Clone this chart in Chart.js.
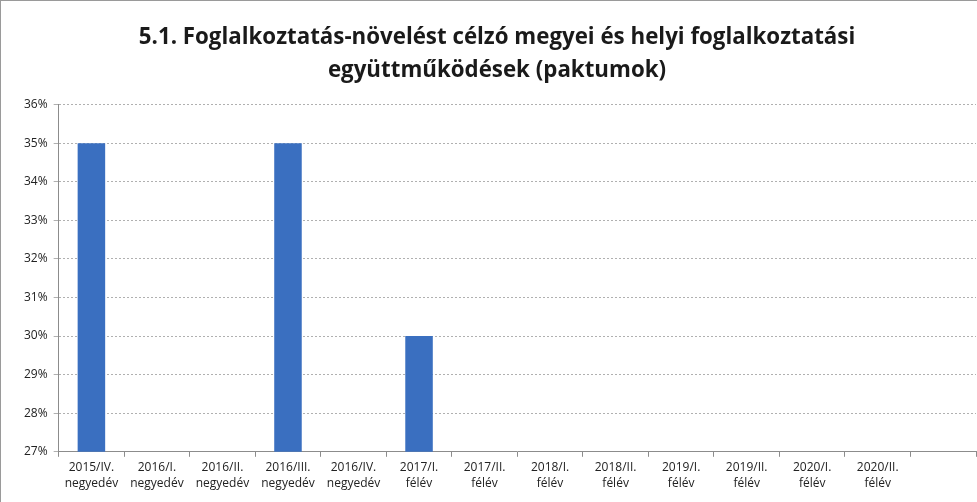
<!DOCTYPE html>
<html>
<head>
<meta charset="utf-8">
<script src="https://cdn.jsdelivr.net/npm/chart.js@4/dist/chart.umd.min.js"></script>
<style>
  html, body { margin: 0; padding: 0; background: #fff; }
  #wrap { position: relative; width: 977px; height: 502px; box-sizing: border-box; border-left: 1px solid #9a9a9a; border-top: 1px solid #9a9a9a; }
  canvas { display: block; }
</style>
</head>
<body>
<div id="wrap"><canvas id="chart"></canvas></div>
<script>
const categories = [
  ['2015/IV.', 'negyedév'],
  ['2016/I.', 'negyedév'],
  ['2016/II.', 'negyedév'],
  ['2016/III.', 'negyedév'],
  ['2016/IV.', 'negyedév'],
  ['2017/I.', 'félév'],
  ['2017/II.', 'félév'],
  ['2018/I.', 'félév'],
  ['2018/II.', 'félév'],
  ['2019/I.', 'félév'],
  ['2019/II.', 'félév'],
  ['2020/I.', 'félév'],
  ['2020/II.', 'félév'],
  ''
];
const values = [35, null, null, 35, null, 30, null, null, null, null, null, null, null, null];
const titleLines = [
  '5.1. Foglalkoztatás-növelést célzó megyei és helyi foglalkoztatási',
  'együttműködések (paktumok)'
];
const yMin = 27;
const yMax = 36;

document.addEventListener('DOMContentLoaded', () => {
  const ctx = document.getElementById('chart').getContext('2d');
  new Chart(ctx, {
    type: 'bar',
    data: {
      labels: categories,
      datasets: [{
        data: values,
        backgroundColor: '#3a6fc0',
        borderWidth: 0,
        categoryPercentage: 1,
        barPercentage: 0.42
      }]
    },
    options: {
      responsive: true,
      maintainAspectRatio: false,
      animation: false,
      layout: { padding: { left: 17, right: 1, top: 8, bottom: 8 } },
      plugins: {
        legend: { display: false },
        tooltip: { enabled: false },
        title: {
          display: true,
          text: titleLines,
          color: '#1a1a1a',
          font: { family: 'Open Sans', size: 22.3, weight: 'bold', lineHeight: 1.47 },
          padding: { top: 12, bottom: 18 }
        }
      },
      scales: {
        x: {
          grid: { display: true, drawOnChartArea: false, drawTicks: true, tickLength: 5, color: '#8c8c8c', offset: true },
          border: { color: '#8c8c8c' },
          ticks: {
            color: '#222',
            font: { family: 'Open Sans', size: 12, lineHeight: 1.3 },
            maxRotation: 0,
            autoSkip: false,
            padding: 3
          }
        },
        y: {
          min: yMin,
          max: yMax,
          ticks: {
            stepSize: 1,
            color: '#222',
            font: { family: 'Open Sans', size: 12 },
            padding: 6,
            callback: v => v + '%'
          },
          grid: { color: '#b0b0b0', tickLength: 5 },
          border: { color: '#8c8c8c', dash: [2, 2] }
        }
      }
    },
    plugins: [{
      id: 'dottedGrid',
      beforeDraw(chart) {
        chart.options.scales.y.grid.borderDash = [2, 2];
      }
    }]
  });
});
</script>
</body>
</html>
